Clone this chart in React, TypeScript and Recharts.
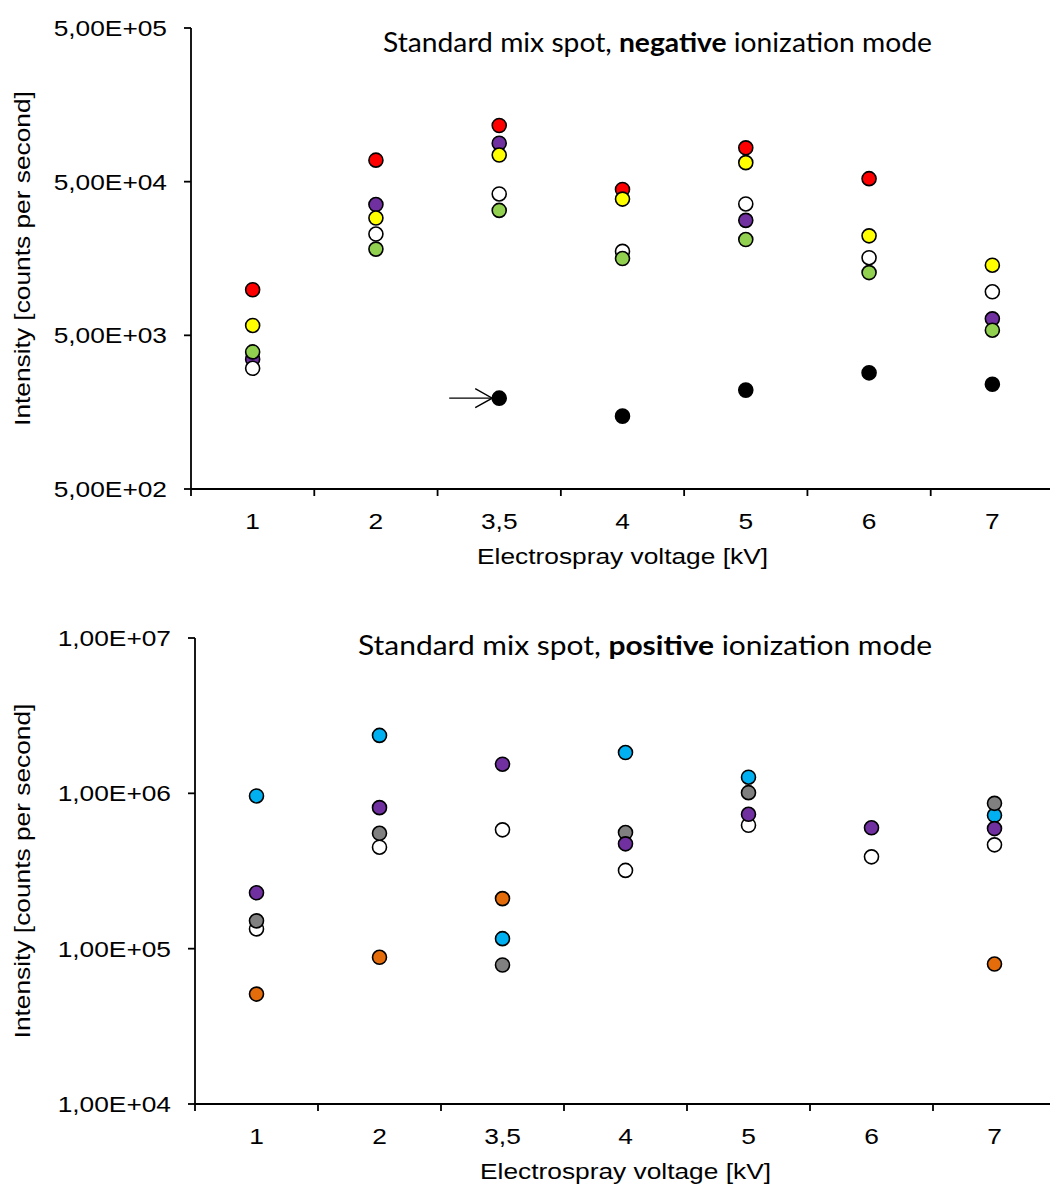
import React from 'react';
import { ScatterChart, Scatter, XAxis, YAxis, Label } from 'recharts';

// x categories (electrospray voltage, kV)
const categories = ['1', '2', '3,5', '4', '5', '6', '7'];

// negative ionization mode (top panel), counts per second
const negRed = [9900, 69000, 116000, 44500, 83000, 52300, null];
const negPurple = [3500, 35500, 89000, null, 28000, null, 6400];
const negYellow = [5800, 29000, 74500, 38500, 66500, 22200, 14300];
const negWhite = [3050, 22800, 41600, 17600, 35800, 16000, 9600];
const negGreen = [3900, 18200, 32500, 15800, 21000, 12800, 5400];
const negBlack = [null, null, 1950, 1490, 2200, 2850, 2400];
const negTicks = [500, 5000, 50000, 500000];

// positive ionization mode (bottom panel)
const posWhite = [134000, 450000, 582000, 319000, 623000, 390000, 466000];
const posCyan = [962000, 2360000, 116000, 1830000, 1270000, null, 722000];
const posOrange = [51000, 88000, 210000, null, null, null, 79600];
const posGray = [151000, 553000, 78500, 559000, 1010000, null, 862000];
const posPurple = [229000, 809000, 1540000, 473000, 733000, 600000, 593000];
const posTicks = [10000, 100000, 1000000, 10000000];

const arrowCategory = '3,5';

const FONT = "'Liberation Sans', Arial, sans-serif";
const FS = 22.5;
const STRETCH = 1.17;

const fmtSci = (v: number) => {
  const exp = Math.floor(Math.log10(v) + 1e-9);
  const m = (v / Math.pow(10, exp)).toFixed(2).replace('.', ',');
  return `${m}E+${String(exp).padStart(2, '0')}`;
};

const toPoints = (values: (number | null)[]) =>
  categories.map((c, i) => ({ x: c, y: values[i] })).filter(p => p.y != null);

const Dot = (props: any) => {
  const { cx, cy, fill, payload } = props;
  const black = fill === '#000000';
  return (
    <g>
      {black && payload?.x === arrowCategory && (
        <g stroke="#000" strokeWidth={1.4} fill="none">
          <line x1={cx - 50} y1={cy} x2={cx - 8} y2={cy} />
          <polyline points={`${cx - 24},${cy - 9.5} ${cx - 7},${cy} ${cx - 24},${cy + 9.5}`} />
        </g>
      )}
      <circle cx={cx} cy={cy} r={7} fill={fill} stroke="#000" strokeWidth={1.6} />
    </g>
  );
};

const YTick = ({ x, y, payload }: any) => (
  <text
    transform={`translate(${x},${y}) scale(${STRETCH},1)`}
    textAnchor="end"
    dy="0.36em"
    style={{ fontFamily: FONT }}
    fontSize={FS}
    fill="#000"
  >
    {fmtSci(payload.value)}
  </text>
);

const makeXTick = (halfBand: number) => ({ x, y, payload }: any) => (
  <g>
    <line x1={x - halfBand} y1={y} x2={x - halfBand} y2={y + 7} stroke="#000" strokeWidth={1.8} />
    <text
      transform={`translate(${x},${y + 32}) scale(${STRETCH},1)`}
      textAnchor="middle"
      dy="0.36em"
      style={{ fontFamily: FONT }}
      fontSize={FS}
      fill="#000"
    >
      {payload.value}
    </text>
  </g>
);

const yTitle = (centerY: number) => (props: any) => {
  const vb = props.viewBox;
  const cy = vb && vb.height ? vb.y + vb.height / 2 : centerY;
  return (
    <text
      transform={`translate(22,${cy}) rotate(-90) scale(${STRETCH},1)`}
      textAnchor="middle"
      dy="0.36em"
      style={{ fontFamily: FONT }}
      fontSize={FS}
      fill="#000"
    >
      Intensity [counts per second]
    </text>
  );
};

const xTitle = (props: any) => {
  const vb = props.viewBox;
  return (
    <text
      transform={`translate(${vb.x + vb.width / 2},${vb.y + 67}) scale(${STRETCH},1)`}
      textAnchor="middle"
      dy="0.36em"
      style={{ fontFamily: FONT }}
      fontSize={FS}
      fill="#000"
    >
      Electrospray voltage [kV]
    </text>
  );
};

type Series = { name: string; values: (number | null)[]; fill: string };

const negSeries: Series[] = [
  { name: 'red', values: negRed, fill: '#FF0000' },
  { name: 'purple', values: negPurple, fill: '#7030A0' },
  { name: 'yellow', values: negYellow, fill: '#FFFF00' },
  { name: 'white', values: negWhite, fill: '#FFFFFF' },
  { name: 'green', values: negGreen, fill: '#92D050' },
  { name: 'black', values: negBlack, fill: '#000000' },
];

const posSeries: Series[] = [
  { name: 'white', values: posWhite, fill: '#FFFFFF' },
  { name: 'cyan', values: posCyan, fill: '#00B0F0' },
  { name: 'orange', values: posOrange, fill: '#E46C0A' },
  { name: 'gray', values: posGray, fill: '#808080' },
  { name: 'purple', values: posPurple, fill: '#7030A0' },
];

type PanelProps = {
  series: Series[];
  ticks: number[];
  height: number;
  top: number;
  right: number;
  yWidth: number;
  xHeight: number;
};

function Panel({ series, ticks, height, top, right, yWidth, xHeight }: PanelProps) {
  const width = 1060;
  const plotW = width - yWidth - right;
  const halfBand = plotW / categories.length / 2;
  const plotMid = top + (height - top - xHeight) / 2;
  return (
    <ScatterChart width={width} height={height} margin={{ top, right, bottom: 0, left: 0 }}>
      <XAxis
        dataKey="x"
        type="category"
        allowDuplicatedCategory={false}
        height={xHeight}
        axisLine={{ stroke: '#000', strokeWidth: 1.8 }}
        tickLine={false}
        tickSize={0}
        tickMargin={0}
        interval={0}
        tick={makeXTick(halfBand)}
      >
        <Label content={xTitle} />
      </XAxis>
      <YAxis
        dataKey="y"
        type="number"
        scale="log"
        domain={[ticks[0], ticks[ticks.length - 1]]}
        ticks={ticks}
        allowDataOverflow
        width={yWidth}
        axisLine={{ stroke: '#000', strokeWidth: 1.8 }}
        tickLine={{ stroke: '#000', strokeWidth: 1.8 }}
        tickSize={7}
        tickMargin={17}
        interval={0}
        tick={<YTick />}
      >
        <Label content={yTitle(plotMid)} />
      </YAxis>
      {series.map(s => (
        <Scatter
          key={s.name}
          name={s.name}
          data={toPoints(s.values)}
          fill={s.fill}
          shape={<Dot />}
          isAnimationActive={false}
        />
      ))}
    </ScatterChart>
  );
}

const Title = ({ x, y, width, size, mode }: { x: number; y: number; width: number; size: number; mode: string }) => (
  <svg style={{ position: 'absolute', left: 0, top: 0 }} width={1050} height={1187} pointerEvents="none">
    <text
      x={x}
      y={y}
      textLength={width}
      lengthAdjust="spacingAndGlyphs"
      style={{ fontFamily: "Lato, 'Open Sans', sans-serif" }}
      fontSize={size}
      fill="#000"
    >
      <tspan>Standard mix spot, </tspan>
      <tspan fontWeight="bold">{mode}</tspan>
      <tspan> ionization mode</tspan>
    </text>
  </svg>
);

export default function App() {
  return (
    <div
      style={{
        position: 'absolute',
        left: 0,
        top: 0,
        width: 1050,
        height: 1187,
        overflow: 'hidden',
        background: '#fff',
        fontFamily: FONT,
      }}
    >
      <div style={{ position: 'absolute', left: 0, top: 0 }}>
        <Panel series={negSeries} ticks={negTicks} height={570} top={28} right={6} yWidth={191} xHeight={81} />
      </div>
      <div style={{ position: 'absolute', left: 0, top: 600 }}>
        <Panel series={posSeries} ticks={posTicks} height={587} top={38} right={4} yWidth={195} xHeight={83} />
      </div>
      <Title x={383} y={52} width={549} size={26} mode="negative" />
      <Title x={358} y={655} width={574} size={27} mode="positive" />
    </div>
  );
}
